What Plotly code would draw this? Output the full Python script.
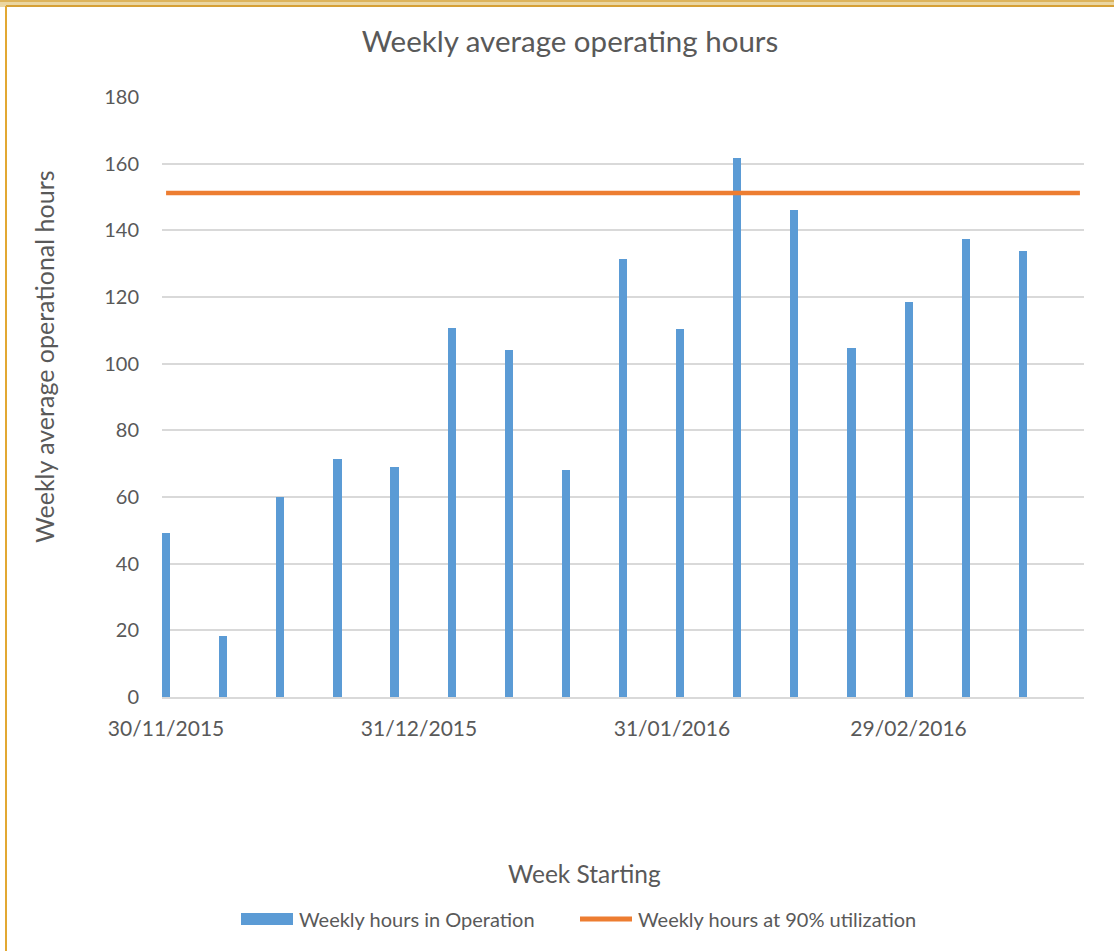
import plotly.graph_objects as go

# ---- data ----
week_start = ["2015-11-30", "2015-12-07", "2015-12-14", "2015-12-21", "2015-12-28",
              "2016-01-04", "2016-01-11", "2016-01-18", "2016-01-25", "2016-02-01",
              "2016-02-08", "2016-02-15", "2016-02-22", "2016-02-29", "2016-03-07",
              "2016-03-14", "2016-03-21"]
hours_in_operation = [49.3, 18.4, 59.9, 71.3, 68.9, 110.6, 104.1, 68.1, 131.5, 110.3,
                      161.8, 146.1, 104.6, 118.4, 137.5, 133.8]
hours_at_90pct = [151.2] * len(week_start)

tick_dates = ["2015-11-30", "2015-12-31", "2016-01-31", "2016-02-29"]
tick_labels = ["30/11/2015", "31/12/2015", "31/01/2016", "29/02/2016"]
y_ticks = [0, 20, 40, 60, 80, 100, 120, 140, 160, 180]
series_names = ["Weekly hours in Operation", "Weekly hours at 90% utilization"]

FONT = "Lato"
TXT = "#595959"
BLUE = "#5B9BD5"
ORANGE = "#ED7D31"
W, H = 1114, 951
ML, MR, MT, MB = 162, 30, 97, 254
PW, PH = W - ML - MR, H - MT - MB


def px(x):
    return (x - ML) / PW


def py(y):
    return (H - MB - y) / PH


fig = go.Figure()
fig.add_trace(go.Bar(
    x=week_start[:len(hours_in_operation)], y=hours_in_operation,
    name=series_names[0],
    marker=dict(color=BLUE, line=dict(width=0)),
    width=86400000 * 1.0,
    showlegend=False,
))
fig.add_trace(go.Scatter(
    x=week_start, y=hours_at_90pct, mode="lines",
    name=series_names[1],
    line=dict(color=ORANGE, width=4.5),
    showlegend=False,
))

fig.update_layout(
    width=W, height=H,
    margin=dict(l=ML, r=MR, t=MT, b=MB),
    paper_bgcolor="white", plot_bgcolor="white",
    font=dict(family=FONT, color=TXT, size=20),
    title=dict(text="Weekly average operating hours", x=570 / W, xanchor="center",
               y=1 - 42 / H, yanchor="middle",
               font=dict(family=FONT, size=29.5, color=TXT)),
    showlegend=False,
    bargap=0,
)

fig.update_xaxes(
    type="date",
    range=["2015-11-29 12:00", "2016-03-21 12:00"],
    tickmode="array", tickvals=tick_dates, ticktext=tick_labels,
    showgrid=False, zeroline=False,
    showline=True, linecolor="#D9D9D9", linewidth=1.5,
    ticks="outside", ticklen=12, tickcolor="rgba(0,0,0,0)",
    tickfont=dict(family=FONT, size=21, color=TXT),
)
fig.update_yaxes(
    range=[0, 180], tickmode="array", tickvals=y_ticks,
    showgrid=True, gridcolor="#D9D9D9", gridwidth=1.5,
    zeroline=False, showline=False,
    ticks="outside", ticklen=18, tickcolor="rgba(0,0,0,0)",
    tickfont=dict(family=FONT, size=20, color=TXT),
)

# axis titles (placed as in the original, not centred on the plot area)
fig.add_annotation(xref="paper", yref="paper", x=px(584), y=py(873),
                   xanchor="center", yanchor="middle", showarrow=False,
                   text="Week Starting", font=dict(family=FONT, size=24.5, color=TXT))
fig.add_annotation(xref="paper", yref="paper", x=px(44), y=py(357),
                   xanchor="center", yanchor="middle", showarrow=False, textangle=-90,
                   text="Weekly average operational hours",
                   font=dict(family=FONT, size=25, color=TXT))

# manual legend (wide symbols as in the original)
LEG_Y = 919
fig.add_shape(type="rect", xref="paper", yref="paper",
              x0=px(241), x1=px(293), y0=py(LEG_Y + 6), y1=py(LEG_Y - 6),
              fillcolor=BLUE, line=dict(width=0))
fig.add_annotation(xref="paper", yref="paper", x=px(297), y=py(LEG_Y),
                   xanchor="left", yanchor="middle", showarrow=False,
                   text=series_names[0], font=dict(family=FONT, size=20, color=TXT))
fig.add_shape(type="line", xref="paper", yref="paper",
              x0=px(580), x1=px(632), y0=py(LEG_Y), y1=py(LEG_Y),
              line=dict(color=ORANGE, width=5))
fig.add_annotation(xref="paper", yref="paper", x=px(636), y=py(LEG_Y),
                   xanchor="left", yanchor="middle", showarrow=False,
                   text=series_names[1], font=dict(family=FONT, size=20, color=TXT))

# decorative frame (gold border at top and left)
fig.add_shape(type="rect", xref="paper", yref="paper",
              x0=px(0), x1=px(W), y0=py(7), y1=py(0),
              fillcolor="#EAD6A2", line=dict(width=0), layer="above")
fig.add_shape(type="line", xref="paper", yref="paper",
              x0=px(0), x1=px(W), y0=py(1), y1=py(1),
              line=dict(color="#D9A844", width=1.5), layer="above")
fig.add_shape(type="line", xref="paper", yref="paper",
              x0=px(6), x1=px(W), y0=py(6), y1=py(6),
              line=dict(color="#D6A035", width=2), layer="above")
fig.add_shape(type="line", xref="paper", yref="paper",
              x0=px(6), x1=px(6), y0=py(6), y1=py(H),
              line=dict(color="#E2A833", width=2), layer="above")

fig.write_html("out.html", config={"displayModeBar": False},
               post_script="document.body.style.margin='0';")
